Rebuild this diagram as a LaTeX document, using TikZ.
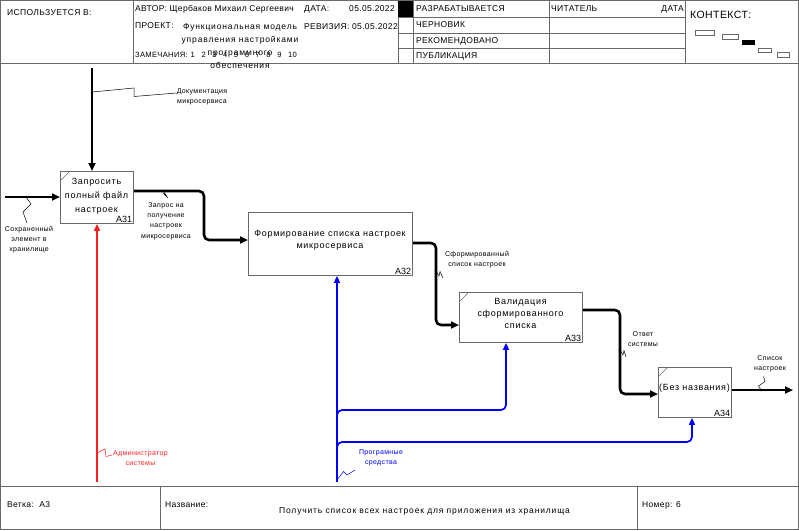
\documentclass[tikz,border=0pt]{standalone}
\usepackage{fontspec}
\setmainfont{Liberation Sans}
\newfontfamily\hdrfont[LetterSpace=4]{Liberation Sans}
\newfontfamily\projfont[LetterSpace=10]{Liberation Sans}
\newfontfamily\boxfont[LetterSpace=8]{Liberation Sans}
\newfontfamily\lblfont[LetterSpace=5]{Liberation Sans}
\usetikzlibrary{arrows.meta,calc}
\definecolor{frame}{RGB}{105,105,105}
\definecolor{idefblue}{RGB}{0,0,255}
\definecolor{idefred}{RGB}{255,30,30}

\tikzset{
  frameline/.style={draw=frame, line width=0.9pt},
  hdr/.style={font=\hdrfont\fontsize{8.5}{10}\selectfont, inner sep=0pt, anchor=west},
  projtext/.style={font=\projfont\fontsize{8.5}{13}\selectfont, inner sep=0pt, align=center},
  funcbox/.style={draw=frame, line width=0.9pt, anchor=north west, inner sep=0pt},
  functext/.style={font=\boxfont\fontsize{9}{14}\selectfont, align=center, inner sep=0pt},
  funcnum/.style={font=\fontsize{9}{10}\selectfont, anchor=south east, inner sep=1.5pt},
  arrlabel/.style={font=\lblfont\fontsize{7}{10.3}\selectfont, align=center, inner sep=0pt},
  flow/.style={line width=2.6pt, rounded corners=5pt, line join=round,
    -{Triangle[length=8pt,width=7pt]}},
  mechblue/.style={draw=idefblue, line width=1.7pt, rounded corners=5pt,
    -{Triangle[length=7pt,width=6pt]}},
  mechred/.style={draw=idefred, line width=1.3pt,
    -{Triangle[length=7pt,width=6pt]}},
  squig/.style={line width=0.5pt},
  tdot/.style={fill, radius=1.3pt},
}
\newcommand{\gapnum}{\hspace{6.6pt}}

\begin{document}
\begin{tikzpicture}[x=1pt,y=-1pt]
\useasboundingbox (0,0) rectangle (799,530);

% ---------- frame, header and footer ----------
\draw[frameline] (0.5,0.5) rectangle (798,529);
\draw[frameline] (0.5,63) -- (798,63);
\draw[frameline] (0.5,486.5) -- (798,486.5);
\foreach \x in {133,398,413,549,685} \draw[frameline] (\x,0.5) -- (\x,63);
\foreach \y in {17,33,48} \draw[frameline] (398,\y) -- (685,\y);
\fill[black] (398,0.5) rectangle (413,17);
\draw[frameline] (160.5,486.5) -- (160.5,529);
\draw[frameline] (637,486.5) -- (637,529);

\node[hdr] (usedin) at (7,13) {ИСПОЛЬЗУЕТСЯ В:};
\node[hdr] (author) at (135,9) {АВТОР: Щербаков Михаил Сергеевич};
\node[hdr] (datelbl) at (304,9) {ДАТА:};
\node[hdr, anchor=east] (dateval) at (395,9) {05.05.2022};
\node[hdr] (projlbl) at (135,26) {ПРОЕКТ:};
\node[projtext] (proj) at (240,46.5) {Функциональная модель\\управления настройками\\программного\\обеспечения};
\node[hdr] (revlbl) at (304,27) {РЕВИЗИЯ: 05.05.2022};
\node[hdr, font=\hdrfont\fontsize{7.6}{10}\selectfont] (notes) at (135,55)
  {ЗАМЕЧАНИЯ:\hspace{3pt}1\gapnum 2\gapnum 3\gapnum 4\gapnum 5\gapnum 6\gapnum 7\gapnum 8\gapnum 9\gapnum 10};

\node[hdr] (st1) at (416,9) {РАЗРАБАТЫВАЕТСЯ};
\node[hdr] (st2) at (416,25) {ЧЕРНОВИК};
\node[hdr] (st3) at (416,41) {РЕКОМЕНДОВАНО};
\node[hdr] (st4) at (416,56) {ПУБЛИКАЦИЯ};
\node[hdr] (reader) at (551,9) {ЧИТАТЕЛЬ};
\node[hdr, anchor=east] (rdate) at (684,9) {ДАТА};

\node[hdr, font=\hdrfont\fontsize{10.5}{12}\selectfont] (context) at (690,15) {КОНТЕКСТ:};
\draw[frame, line width=0.7pt] (695,30.5) rectangle (714,35);
\draw[frame, line width=0.7pt] (722,34.5) rectangle (738,39.5);
\fill[black] (742,40) rectangle (755,45);
\draw[frame, line width=0.7pt] (758,48) rectangle (771,52);
\draw[frame, line width=0.7pt] (777,52.5) rectangle (789,57);

\node[hdr] (branch) at (7,505) {Ветка:\ \ А3};
\node[hdr] (titlelbl) at (165,505) {Название:};
\node[hdr, anchor=center, font=\projfont\fontsize{8.5}{10}\selectfont] (title) at (424.5,511)
  {Получить список всех настроек для приложения из хранилища};
\node[hdr] (number) at (642,505) {Номер: 6};

% ---------- function boxes ----------
\node[funcbox, minimum width=73pt, minimum height=52pt] (a31) at (60,171) {};
\node[funcbox, minimum width=164pt, minimum height=63pt] (a32) at (248,212) {};
\node[funcbox, minimum width=123pt, minimum height=50pt] (a33) at (459,292) {};
\node[funcbox, minimum width=73pt, minimum height=50pt] (a34) at (658,367) {};

\foreach \b in {a31,a33,a34}
  \draw[frame, line width=0.5pt] ($(\b.north west)+(0,10)$) -- ($(\b.north west)+(10,0)$);

\node[functext] (a31t) at (96.5,196) {Запросить\\полный файл\\настроек};
\node[functext, font=\boxfont\fontsize{9}{12}\selectfont] (a32t) at (330,240) {Формирование списка настроек\\микросервиса};
\node[functext, font=\boxfont\fontsize{9}{12}\selectfont] (a33t) at (520.5,313) {Валидация\\сформированного\\списка};
\node[functext] (a34t) at (694.5,388) {(Без названия)};

\node[funcnum] at (a31.south east) {А31};
\node[funcnum] at (a32.south east) {А32};
\node[funcnum] at (a33.south east) {А33};
\node[funcnum] at (a34.south east) {А34};

% ---------- black input, control and output arrows ----------
\coordinate (in1) at (5,197);
\coordinate (ctl1) at (92,68);
\coordinate (out4) at (793,390);
\draw[flow] (in1) -- (in1 -| a31.west);
\draw[flow] (ctl1) -- (ctl1 |- a31.north);
\draw[flow] (a31.east |- 0,191) -- (204,191) -- (204,240) -- (a32.west |- 0,240);
\draw[flow] (a32.east |- 0,243) -- (436,243) -- (436,325) -- (a33.west |- 0,325);
\draw[flow] (a33.east |- 0,310) -- (620,310) -- (620,394) -- (a34.west |- 0,394);
\draw[flow] (a34.east |- 0,390) -- (out4);

% ---------- mechanism arrows ----------
\coordinate (red0) at (97,482);
\draw[mechred] (red0) -- (red0 |- a31.south);

\coordinate (blue0) at (337,482);
\coordinate (bend1) at (506,410);
\coordinate (bend2) at (692,442);
\draw[mechblue] (blue0) -- (blue0 |- a32.south);
\draw[mechblue] (337,420) -- (337,410) -- (bend1) -- (bend1 |- a33.south);
\draw[mechblue] (337,452) -- (337,442) -- (bend2) -- (bend2 |- a34.south);

% ---------- arrow labels with their leader squiggles ----------
\node[arrlabel] (lbldoc) at (202,97) {Документация\\микросервиса};
\fill[tdot] (92,92) circle;
\draw[squig] (92,92) -- (134,88) -- (134,96.5) -- (lbldoc.west |- 0,93);

\node[arrlabel] (lblstore) at (29,239.5) {Сохраненный\\элемент в\\хранилище};
\fill[tdot] (26,197) circle;
\draw[squig] (26,197) -- (31,204) -- (23,212) -- (27,223);

\node[arrlabel] (lblreq) at (166,221) {Запрос на\\получение\\настроек\\микросервиса};
\fill[tdot] (163,191) circle;
\draw[squig] (163,191) -- (166,195) -- (164,194) -- (168,198);

\node[arrlabel] (lblform) at (477,259.5) {Сформированный\\список настроек};
\fill[tdot] (436,271) circle;
\draw[squig] (436,271) -- (439,276) -- (440,271.5) -- (443,278);

\node[arrlabel] (lblans) at (643,339) {Ответ\\системы};
\fill[tdot] (620,350) circle;
\draw[squig] (620,350) -- (623,355) -- (624,350.5) -- (626,357);

\node[arrlabel] (lbllist) at (770,364) {Список\\настроек};
\fill[tdot] (761,390) circle;
\draw[squig] (761,390) -- (758.5,386) -- (765,381.5) -- (763.5,376.5);

\node[arrlabel, text=idefred] (lbladm) at (140.5,458) {Администратор\\системы};
\fill[tdot, idefred] (97,453) circle;
\draw[squig, idefred] (97,453) -- (105,449) -- (106,456.5) -- (112,455);

\node[arrlabel, text=idefblue] (lblsoft) at (381,458) {Програмные\\средства};
\fill[tdot, idefblue] (337,480) circle;
\draw[squig, idefblue] (337,480) -- (343.5,471.5) -- (347,475) -- (355,470);
\end{tikzpicture}
\end{document}
